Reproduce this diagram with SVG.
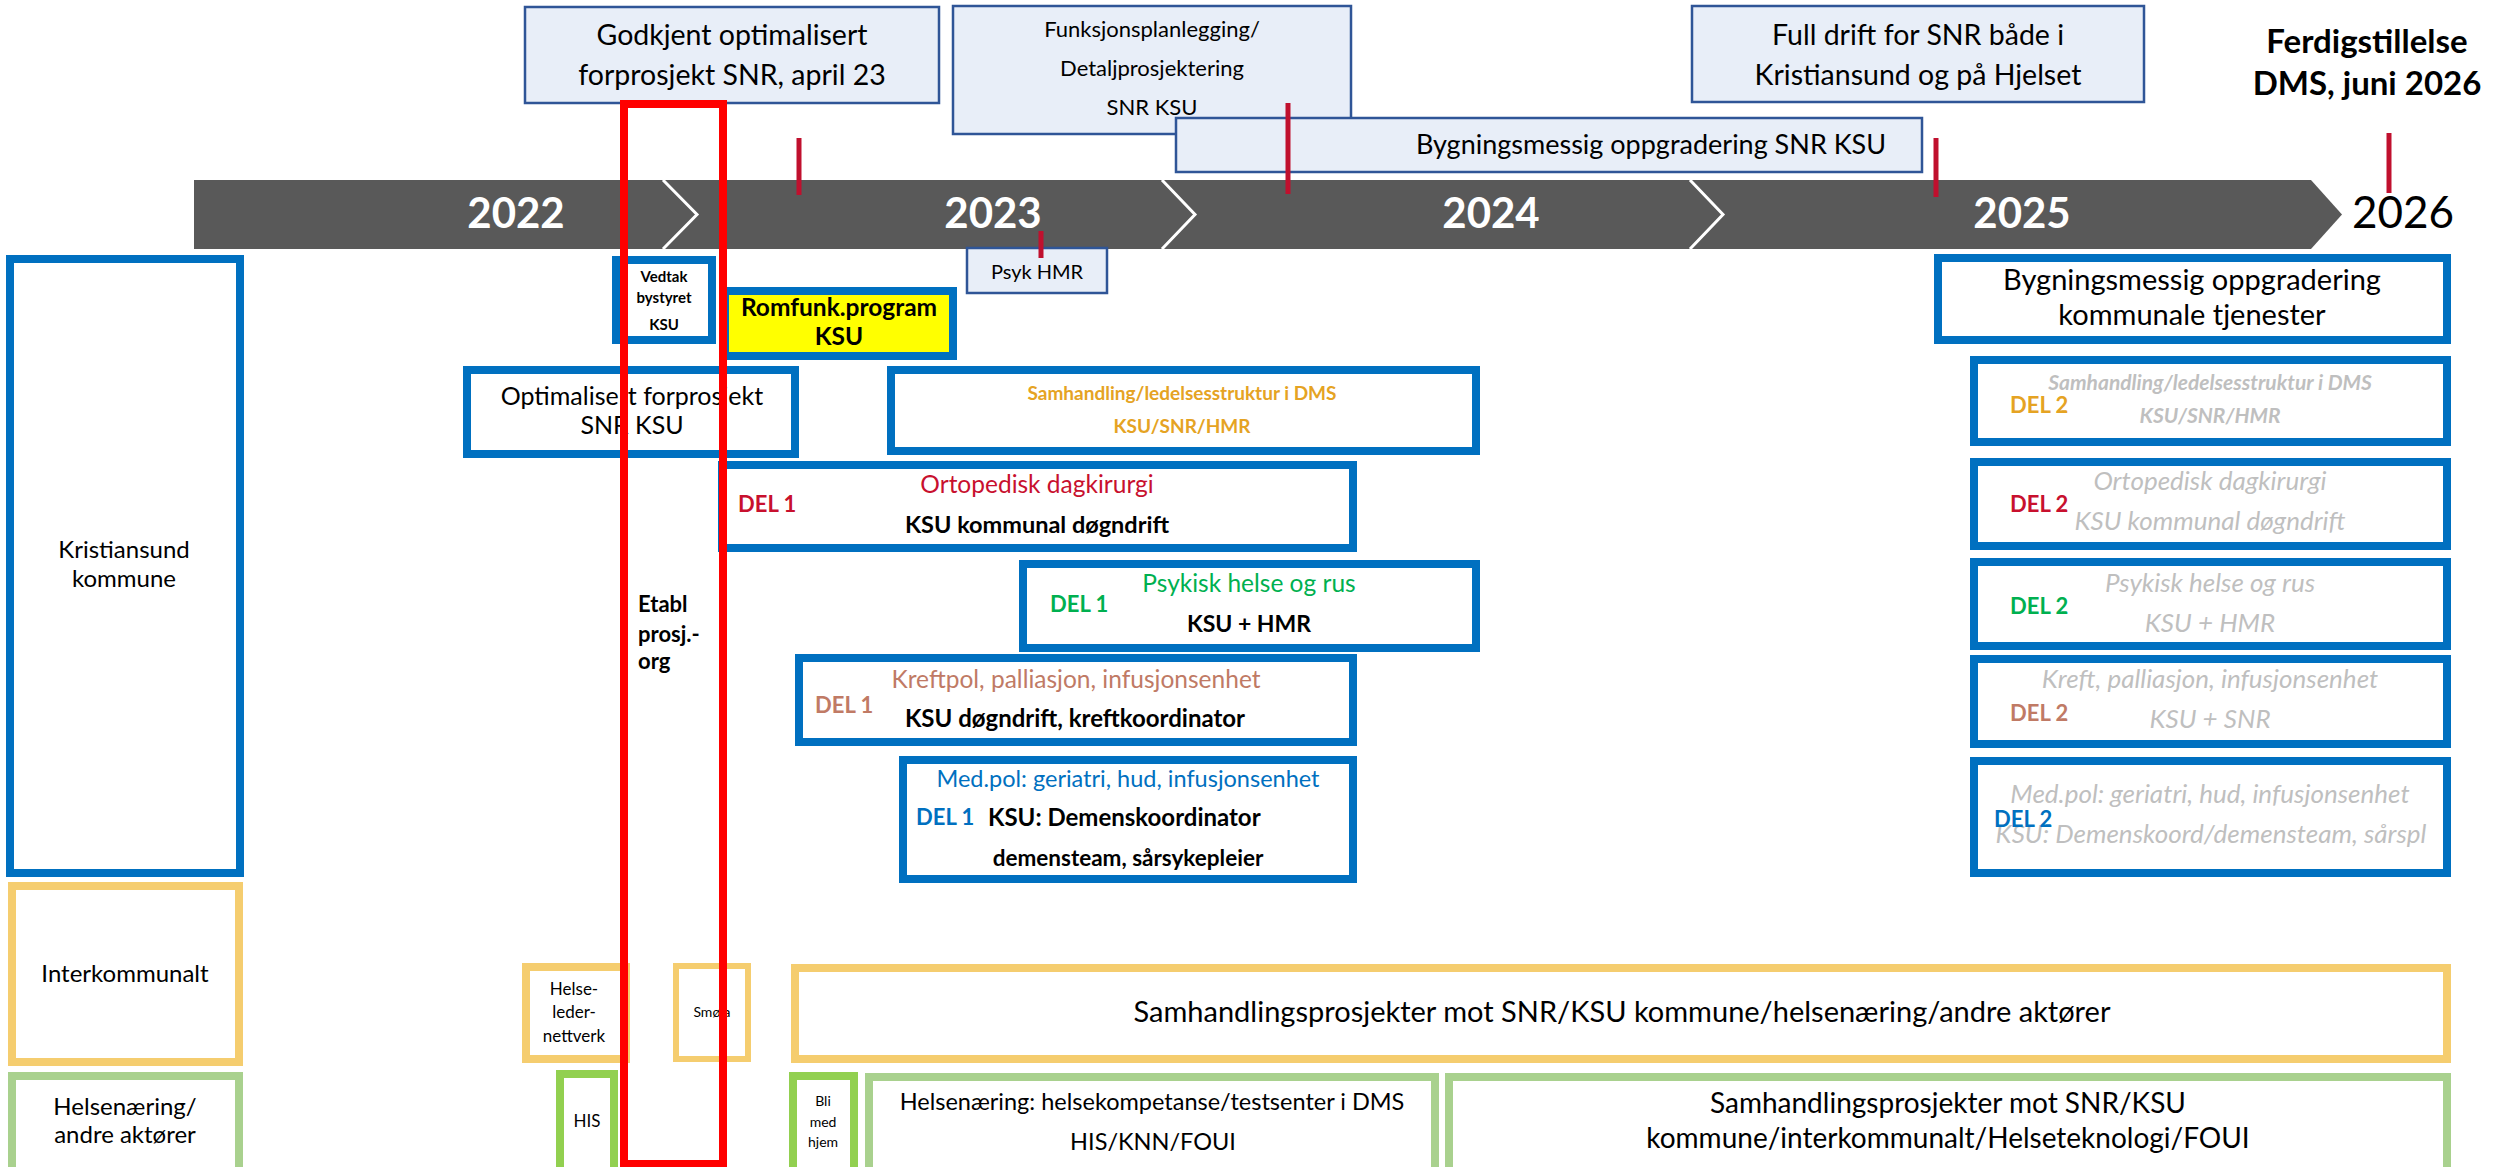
<svg xmlns="http://www.w3.org/2000/svg" width="2501" height="1167" viewBox="0 0 2501 1167">
<style>
text{font-family:Lato,"Open Sans","Liberation Sans",sans-serif;text-anchor:middle;fill:#000}
.lb{fill:#E8EEF8;stroke:#2F5597;stroke-width:2.5}
.bl{fill:#fff;stroke:#0070C0;stroke-width:8}
.ye{fill:#fff;stroke:#F5CD6F;stroke-width:8}
.gr{fill:#fff;stroke:#A9D18E;stroke-width:8}
.gb{fill:#fff;stroke:#92D050;stroke-width:8}
.tick{stroke:#C0102E;stroke-width:5}
.chev{fill:none;stroke:#fff;stroke-width:3}
.yr{font-weight:bold;font-size:42px;fill:#fff}
.b{font-weight:bold}
.st{text-anchor:start}
.g{fill:#BFBFBF;font-style:italic}
.cr{fill:#C8102E}
.og{fill:#E5A323}
.gn{fill:#00B050}
.bn{fill:#C07A65}
.bu{fill:#0070C0}
</style>

<g id="timeline">
<polygon points="194,180 2311,180 2342,214.5 2311,249 194,249" fill="#595959"/>
<polyline class="chev" points="663,180 697,214.5 663,249"/>
<polyline class="chev" points="1162,180 1195,214.5 1162,249"/>
<polyline class="chev" points="1690,180 1723,214.5 1690,249"/>
<text class="yr" x="516" y="228">2022</text>
<text class="yr" x="993" y="228">2023</text>
<text class="yr" x="1491" y="228">2024</text>
<text class="yr" x="2022" y="228">2025</text>
<text x="2403" y="228" font-size="44">2026</text>
</g>

<g id="godkjent">
<rect class="lb" x="525" y="7" width="414" height="96"/>
<text x="732" y="45" font-size="28.5">Godkjent optimalisert</text>
<text x="732" y="85" font-size="28.5">forprosjekt SNR, april 23</text>
</g>
<g id="funksjon">
<rect class="lb" x="953" y="6" width="398" height="128"/>
<text x="1152" y="37" font-size="22">Funksjonsplanlegging/</text>
<text x="1152" y="76" font-size="22">Detaljprosjektering</text>
<text x="1152" y="115" font-size="22">SNR KSU</text>
</g>
<g id="bygn-snr">
<rect class="lb" x="1176" y="118" width="746" height="54"/>
<text x="1651" y="154" font-size="27">Bygningsmessig oppgradering SNR KSU</text>
</g>
<g id="full-drift">
<rect class="lb" x="1692" y="6" width="452" height="96"/>
<text x="1918" y="45" font-size="28.5">Full drift for SNR både i</text>
<text x="1918" y="85" font-size="28.5">Kristiansund og på Hjelset</text>
</g>
<g id="ferdig">
<text class="b" x="2367" y="53" font-size="33">Ferdigstillelse</text>
<text class="b" x="2367" y="95" font-size="33">DMS, juni 2026</text>
</g>
<g id="psyk-hmr">
<rect class="lb" x="967" y="248" width="140" height="45"/>
<text x="1037" y="279" font-size="20">Psyk HMR</text>
</g>

<g id="kristiansund">
<rect class="bl" x="10" y="259" width="230" height="614"/>
<text x="124" y="558" font-size="24">Kristiansund</text>
<text x="124" y="587" font-size="24">kommune</text>
</g>
<g id="vedtak">
<rect class="bl" x="616" y="260" width="96" height="80"/>
<text class="b" x="664" y="282" font-size="15">Vedtak</text>
<text class="b" x="664" y="303" font-size="15">bystyret</text>
<text class="b" x="664" y="330" font-size="15">KSU</text>
</g>
<g id="romfunk">
<rect class="bl" x="725" y="291" width="228" height="65" style="fill:#FFFF00"/>
<text class="b" x="839" y="316" font-size="24.5">Romfunk.program</text>
<text class="b" x="839" y="345" font-size="24.5">KSU</text>
</g>
<g id="optimalisert">
<rect class="bl" x="467" y="370" width="328" height="84"/>
<text x="632" y="405" font-size="25">Optimalisert forprosjekt</text>
<text x="632" y="434" font-size="25">SNR KSU</text>
</g>
<g id="samhandling-del1">
<rect class="bl" x="891" y="370" width="585" height="81"/>
<text class="b og" x="1182" y="400" font-size="19">Samhandling/ledelsesstruktur i DMS</text>
<text class="b og" x="1182" y="433" font-size="19">KSU/SNR/HMR</text>
</g>
<g id="ortopedisk-del1">
<rect class="bl" x="722" y="465" width="631" height="83"/>
<text class="b cr st" x="738" y="512" font-size="22">DEL 1</text>
<text class="cr" x="1037" y="493" font-size="24.5">Ortopedisk dagkirurgi</text>
<text class="b" x="1037" y="533" font-size="23.5">KSU kommunal døgndrift</text>
</g>
<g id="psykisk-del1">
<rect class="bl" x="1023" y="564" width="453" height="84"/>
<text class="b gn st" x="1050" y="612" font-size="22">DEL 1</text>
<text class="gn" x="1249" y="592" font-size="24.5">Psykisk helse og rus</text>
<text class="b" x="1249" y="632" font-size="23">KSU + HMR</text>
</g>
<g id="kreft-del1">
<rect class="bl" x="799" y="658" width="554" height="84"/>
<text class="b bn st" x="815" y="713" font-size="22">DEL 1</text>
<text class="bn" x="1076" y="688" font-size="24.5">Kreftpol, palliasjon, infusjonsenhet</text>
<text class="b" x="1075" y="727" font-size="24">KSU døgndrift, kreftkoordinator</text>
</g>
<g id="medpol-del1">
<rect class="bl" x="903" y="760" width="450" height="119"/>
<text class="bu" x="1128" y="787" font-size="23.5">Med.pol: geriatri, hud, infusjonsenhet</text>
<text class="b bu st" x="916" y="825" font-size="22">DEL 1</text>
<text class="b st" x="988" y="826" font-size="24">KSU: Demenskoordinator</text>
<text class="b" x="1128" y="866" font-size="22.5">demensteam, sårsykepleier</text>
</g>

<g id="bygn-kommunale">
<rect class="bl" x="1938" y="258" width="509" height="82"/>
<text x="2192" y="290" font-size="29">Bygningsmessig oppgradering</text>
<text x="2192" y="325" font-size="29">kommunale tjenester</text>
</g>
<g id="samhandling-del2">
<rect class="bl" x="1974" y="360" width="473" height="82"/>
<text class="b og st" x="2010" y="413" font-size="22">DEL 2</text>
<text class="b g" x="2210" y="390" font-size="21">Samhandling/ledelsesstruktur i DMS</text>
<text class="b g" x="2210" y="423" font-size="21">KSU/SNR/HMR</text>
</g>
<g id="ortopedisk-del2">
<rect class="bl" x="1974" y="462" width="473" height="84"/>
<text class="b cr st" x="2010" y="512" font-size="22">DEL 2</text>
<text class="g" x="2210" y="490" font-size="26">Ortopedisk dagkirurgi</text>
<text class="g" x="2210" y="530" font-size="26">KSU kommunal døgndrift</text>
</g>
<g id="psykisk-del2">
<rect class="bl" x="1974" y="562" width="473" height="84"/>
<text class="b gn st" x="2010" y="614" font-size="22">DEL 2</text>
<text class="g" x="2210" y="592" font-size="26">Psykisk helse og rus</text>
<text class="g" x="2210" y="632" font-size="26">KSU + HMR</text>
</g>
<g id="kreft-del2">
<rect class="bl" x="1974" y="659" width="473" height="85"/>
<text class="b bn st" x="2010" y="721" font-size="22">DEL 2</text>
<text class="g" x="2210" y="688" font-size="26">Kreft, palliasjon, infusjonsenhet</text>
<text class="g" x="2210" y="728" font-size="26">KSU + SNR</text>
</g>
<g id="medpol-del2">
<rect class="bl" x="1974" y="761" width="473" height="112"/>
<text class="g" x="2210" y="803" font-size="26">Med.pol: geriatri, hud, infusjonsenhet</text>
<text class="g" x="2211" y="843" font-size="26">KSU: Demenskoord/demensteam, sårspl</text>
<text class="b bu st" x="1994" y="827" font-size="22">DEL 2</text>
</g>

<g id="interkommunalt">
<rect class="ye" x="12" y="886" width="227" height="176"/>
<text x="125" y="982" font-size="24">Interkommunalt</text>
</g>
<g id="helseledernettverk">
<rect class="ye" x="526" y="967" width="100" height="92"/>
<text x="574" y="995" font-size="17">Helse-</text>
<text x="574" y="1018" font-size="17">leder-</text>
<text x="574" y="1042" font-size="17">nettverk</text>
</g>
<g id="smola">
<rect class="ye" x="676" y="966" width="72" height="93" style="stroke-width:6"/>
<text x="712" y="1017" font-size="14">Smøla</text>
</g>
<g id="samhandlingsprosjekter-inter">
<rect class="ye" x="795" y="968" width="1652" height="91"/>
<text x="1622" y="1022" font-size="29">Samhandlingsprosjekter mot SNR/KSU kommune/helsenæring/andre aktører</text>
</g>
<g id="helsenaering">
<rect class="gr" x="12" y="1076" width="227" height="100"/>
<text x="125" y="1115" font-size="24">Helsenæring/</text>
<text x="125" y="1143" font-size="24">andre aktører</text>
</g>
<g id="his">
<rect class="gb" x="560" y="1074" width="54" height="102"/>
<text x="587" y="1127" font-size="17">HIS</text>
</g>
<g id="bli-med-hjem">
<rect class="gb" x="793" y="1076" width="61" height="100"/>
<text x="823" y="1106" font-size="14">Bli</text>
<text x="823" y="1127" font-size="14">med</text>
<text x="823" y="1147" font-size="14">hjem</text>
</g>
<g id="helsekompetanse">
<rect class="gr" x="869" y="1077" width="566" height="100"/>
<text x="1152" y="1110" font-size="23.5">Helsenæring: helsekompetanse/testsenter i DMS</text>
<text x="1153" y="1150" font-size="23.5">HIS/KNN/FOUI</text>
</g>
<g id="samhandlingsprosjekter-helse">
<rect class="gr" x="1449" y="1077" width="998" height="100"/>
<text x="1948" y="1113" font-size="28">Samhandlingsprosjekter mot SNR/KSU</text>
<text x="1948" y="1148" font-size="28">kommune/interkommunalt/Helseteknologi/FOUI</text>
</g>

<g id="etabl-prosj-org">
<rect x="624" y="104" width="99" height="1060" fill="none" stroke="#FF0000" stroke-width="8"/>
<text class="b st" x="638" y="612" font-size="22">Etabl</text>
<text class="b st" x="638" y="642" font-size="22">prosj.-</text>
<text class="b st" x="638" y="669" font-size="22">org</text>
</g>

<g id="connectors">
<line class="tick" x1="799" y1="138" x2="799" y2="195"/>
<line class="tick" x1="1288" y1="103" x2="1288" y2="194"/>
<line class="tick" x1="1041" y1="231" x2="1041" y2="258"/>
<line class="tick" x1="1936" y1="138" x2="1936" y2="197"/>
<line class="tick" x1="2389" y1="133" x2="2389" y2="193"/>
</g>
</svg>
